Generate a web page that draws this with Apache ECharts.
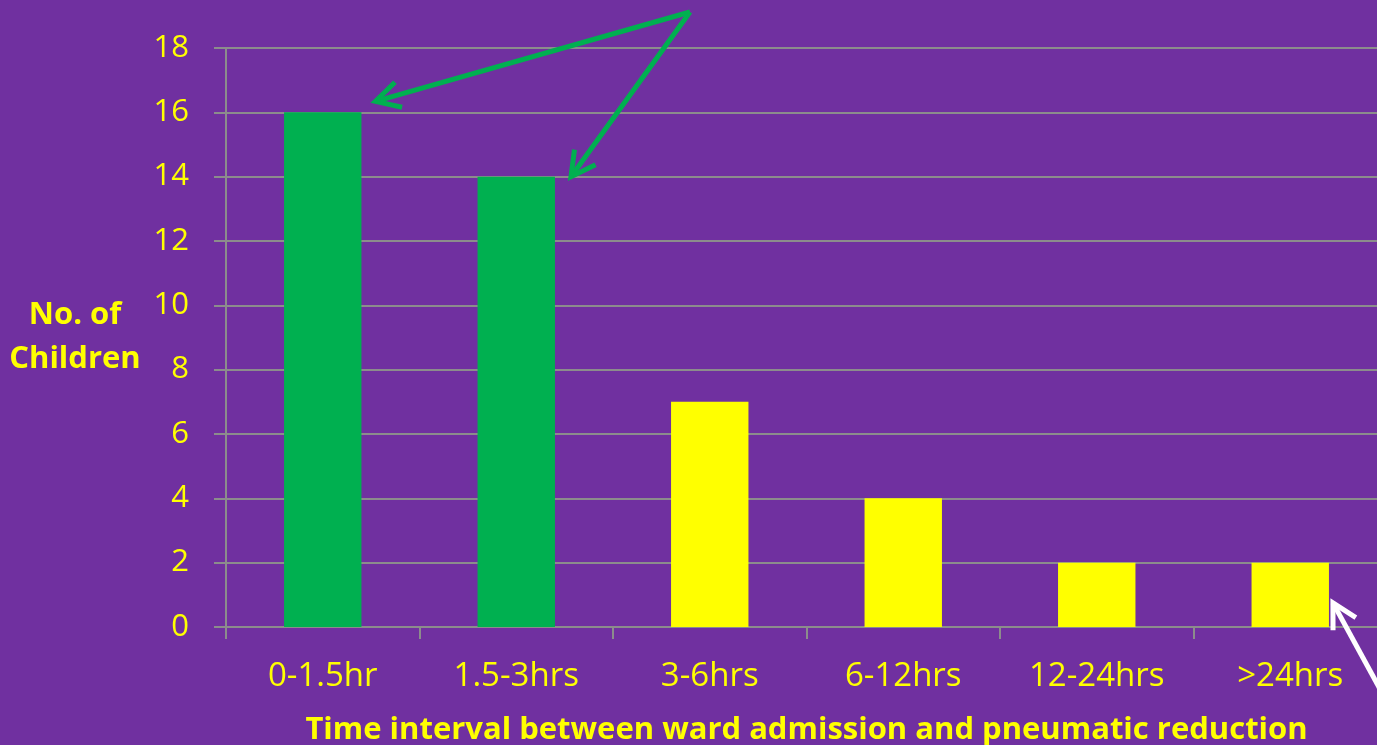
<!DOCTYPE html>
<html><head><meta charset="utf-8">
<script src="https://cdn.jsdelivr.net/npm/echarts@6/dist/echarts.min.js"></script>
<style>html,body{margin:0;padding:0;background:#7030A0;}#c{width:1377px;height:745px;}</style>
</head><body><div id="c"></div>
<script>
var categories = ['0-1.5hr','1.5-3hrs','3-6hrs','6-12hrs','12-24hrs','>24hrs'];
var counts = [16, 14, 7, 4, 2, 2];
var barColors = ['#00B050','#00B050','#FFFF00','#FFFF00','#FFFF00','#FFFF00'];
var yTicks = {min: 0, max: 18, interval: 2};
var yName = 'No. of\nChildren';
var xName = 'Time interval between ward admission and pneumatic reduction';

var chart = echarts.init(document.getElementById('c'));
var FONT = 'Open Sans';
var option = {
  backgroundColor: '#7030A0',
  animation: false,
  grid: {left: 226, top: 48, height: 579, width: 1161, containLabel: false, outerBoundsMode: 'none'},
  xAxis: {
    type: 'category', data: categories,
    axisLine: {lineStyle: {color: '#8c8c8c', width: 2}},
    axisTick: {show: true, length: 12, lineStyle: {color: '#8c8c8c', width: 2}},
    axisLabel: {color: '#FFFF00', fontFamily: FONT, fontSize: 33, margin: 33, interval: 0},
    name: xName, nameLocation: 'middle', nameGap: 103,
    nameTextStyle: {color: '#FFFF00', fontFamily: FONT, fontWeight: 'bold', fontSize: 31, verticalAlign: 'middle'}
  },
  yAxis: {
    type: 'value', min: yTicks.min, max: yTicks.max, interval: yTicks.interval,
    axisLine: {show: true, lineStyle: {color: '#8c8c8c', width: 2}},
    axisTick: {show: true, length: 12, lineStyle: {color: '#8c8c8c', width: 2}},
    splitLine: {show: true, lineStyle: {color: '#8c8c8c', width: 2}},
    axisLabel: {color: '#FFFF00', fontFamily: FONT, fontSize: 31, margin: 37},
    name: yName, nameLocation: 'middle', nameGap: 151, nameRotate: 0,
    nameTextStyle: {color: '#FFFF00', fontFamily: FONT, fontWeight: 'bold', fontSize: 31, align: 'center', verticalAlign: 'middle', lineHeight: 44, padding: [14, 0, 0, 0]}
  },
  series: [{
    type: 'bar', barWidth: '40%',
    data: counts.map(function(v, i){ return {value: v, itemStyle: {color: barColors[i]}}; })
  }]
};
chart.setOption(option);

function arrow(from, to, color) {
  var dx = to[0]-from[0], dy = to[1]-from[1];
  var len = Math.sqrt(dx*dx+dy*dy), ux = dx/len, uy = dy/len;
  var hl = 24, hw = 13;
  var bx = to[0]-ux*hl, by = to[1]-uy*hl;
  var p1 = [bx - uy*hw, by + ux*hw], p2 = [bx + uy*hw, by - ux*hw];
  return [
    {type:'line', shape:{x1:from[0],y1:from[1],x2:to[0],y2:to[1]}, style:{stroke:color, lineWidth:5}, z:100},
    {type:'polyline', shape:{points:[p1,to,p2]}, style:{stroke:color, lineWidth:5, fill:null, lineJoin:'miter'}, z:100}
  ];
}
var halfBar = 1161/6*0.2;
var t0 = chart.convertToPixel({gridIndex:0}, [0, counts[0]]);
var t1 = chart.convertToPixel({gridIndex:0}, [1, counts[1]]);
var t5 = chart.convertToPixel({gridIndex:0}, [5, 0.75]);
var g = [].concat(
  arrow([690, 12], [t0[0]+halfBar+14, t0[1]-11], '#00B050'),
  arrow([690, 12], [t1[0]+halfBar+16, t1[1]], '#00B050'),
  arrow([1398, 722], [t5[0]+halfBar+4, t5[1]], '#FFFFFF')
);
chart.setOption({graphic: g});
</script></body></html>
